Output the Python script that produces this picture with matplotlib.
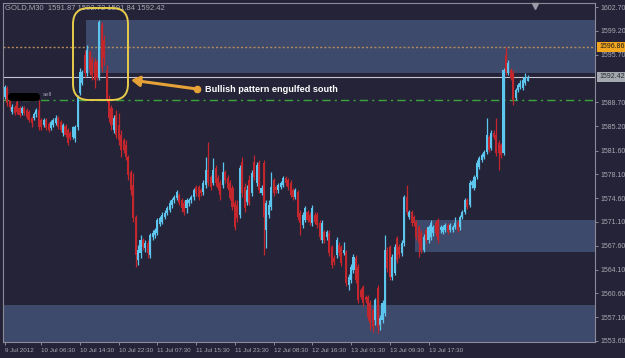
import numpy as np
import matplotlib
matplotlib.use("Agg")
import matplotlib.pyplot as plt
from matplotlib.patches import Rectangle, FancyBboxPatch

# ---------------- data (GOLD, M30) ----------------
opens = [1589.5,1590.8,1589.0,1587.3,1588.0,1588.7,1587.8,1587.1,1587.8,1587.6,
         1587.3,1586.4,1586.4,1587.0,1587.6,1586.1,1585.4,1586.1,1585.5,1584.9,
         1585.4,1585.7,1586.4,1585.8,1584.2,1585.2,1584.6,1584.2,1583.6,1583.4,
         1585.1,1590.1,1591.5,1595.6,1593.0,1596.1,1594.9,1594.6,1594.6,1592.3,
         1600.1,1597.9,1593.4,1589.0,1587.8,1584.6,1586.8,1585.4,1583.9,1583.2,
         1582.4,1580.6,1578.4,1576.5,1571.8,1565.5,1566.5,1568.5,1567.3,1568.0,
         1566.2,1568.9,1569.2,1569.5,1570.8,1571.1,1571.8,1572.4,1572.9,1573.6,
         1574.3,1574.6,1575.1,1574.3,1573.9,1573.2,1573.9,1574.3,1574.8,1576.2,
         1576.2,1575.8,1575.5,1576.5,1578.7,1577.7,1576.8,1579.0,1577.6,1576.8,
         1576.5,1578.4,1577.6,1576.8,1576.1,1573.9,1573.6,1572.1,1579.9,1576.2,
         1574.0,1577.3,1575.4,1579.9,1576.8,1579.8,1575.4,1579.8,1569.9,1572.1,
         1573.3,1577.3,1576.2,1575.8,1576.2,1576.5,1577.6,1577.3,1576.8,1575.8,
         1574.8,1575.5,1572.4,1570.7,1571.4,1572.6,1572.1,1571.0,1572.1,1572.1,
         1571.0,1568.5,1569.6,1568.9,1569.5,1567.4,1565.8,1566.2,1567.7,1567.4,
         1566.5,1566.7,1561.8,1562.6,1564.0,1565.8,1564.5,1561.1,1561.5,1560.1,
         1560.1,1559.2,1558.2,1556.7,1561.4,1555.9,1556.7,1557.7,1567.0,1567.4,
         1563.0,1563.6,1568.7,1567.4,1566.5,1568.0,1574.8,1571.8,1572.6,1571.8,
         1571.1,1570.4,1569.5,1567.0,1569.9,1568.5,1568.9,1569.5,1571.0,1571.4,
         1569.9,1569.6,1569.9,1570.7,1569.9,1569.9,1570.4,1571.0,1570.4,1571.8,
         1572.6,1574.3,1573.6,1576.5,1576.1,1577.7,1579.2,1580.2,1580.6,1581.4,
         1583.6,1582.0,1584.2,1583.9,1582.7,1582.4,1581.2,1595.6,1593.0,1593.4,
         1593.0,1589.3,1590.5,1590.9,1590.8,1591.5,1591.87]
highs = [1591.2,1591.1,1589.3,1588.4,1588.3,1589.0,1588.1,1588.1,1588.1,1587.8,
         1587.6,1586.7,1587.3,1587.8,1589.0,1586.4,1586.4,1586.4,1585.8,1586.1,
         1586.4,1586.8,1586.7,1586.1,1585.7,1585.5,1584.9,1584.5,1585.2,1585.4,
         1589.8,1593.7,1593.4,1596.4,1597.1,1596.4,1595.3,1595.2,1594.9,1600.8,
         1600.5,1598.6,1594.2,1589.8,1588.3,1586.8,1587.6,1587.1,1584.6,1583.4,
         1583.2,1580.9,1578.7,1578.3,1572.1,1567.7,1569.2,1568.7,1568.5,1568.5,
         1569.5,1569.9,1570.2,1571.7,1572.0,1572.6,1572.9,1573.4,1574.3,1574.6,
         1575.1,1575.8,1575.4,1574.6,1574.3,1574.6,1574.6,1575.1,1576.1,1576.5,
         1576.5,1576.1,1577.3,1580.6,1582.9,1578.0,1580.5,1579.5,1578.0,1577.3,
         1579.9,1578.7,1578.0,1577.3,1576.5,1574.3,1574.3,1579.5,1580.6,1576.8,
         1576.5,1578.0,1578.7,1580.9,1579.9,1580.2,1576.5,1580.2,1574.3,1574.3,
         1578.4,1577.6,1576.5,1576.8,1577.1,1577.8,1577.8,1577.6,1577.3,1576.1,
         1576.1,1575.8,1572.9,1572.6,1573.4,1572.9,1572.6,1573.6,1572.6,1572.6,
         1571.4,1571.4,1569.9,1569.9,1569.9,1567.7,1566.2,1568.9,1568.2,1567.7,
         1568.2,1567.0,1563.4,1564.9,1566.4,1566.2,1564.9,1561.4,1561.8,1560.4,
         1560.4,1559.6,1558.5,1559.9,1561.8,1557.4,1559.6,1569.2,1567.4,1567.7,
         1566.4,1567.9,1569.0,1567.9,1568.5,1575.1,1576.5,1572.9,1572.9,1572.1,
         1571.4,1570.7,1569.9,1569.3,1570.2,1570.7,1571.4,1570.7,1571.4,1571.7,
         1570.7,1570.7,1571.0,1571.0,1571.0,1570.7,1571.8,1571.4,1572.1,1572.9,
         1574.6,1574.6,1577.3,1577.3,1578.0,1580.2,1580.8,1581.2,1581.7,1586.4,
         1583.9,1584.6,1584.6,1586.4,1583.2,1582.7,1593.7,1596.86,1594.9,1593.7,
         1593.4,1590.8,1591.5,1592.0,1592.4,1593.0,1592.72]
lows = [1589.2,1588.1,1587.6,1587.0,1586.8,1587.0,1586.5,1586.8,1586.8,1586.2,
        1585.8,1585.1,1586.1,1586.5,1584.6,1584.6,1585.1,1584.6,1584.3,1584.6,
        1585.1,1585.4,1584.8,1584.3,1583.7,1583.6,1582.4,1583.2,1583.3,1582.9,
        1584.6,1589.8,1591.2,1592.4,1592.6,1592.7,1592.0,1590.8,1592.0,1592.0,
        1593.1,1594.2,1588.7,1585.8,1584.6,1584.2,1583.4,1582.4,1580.6,1581.2,
        1580.2,1577.3,1575.1,1571.1,1564.5,1564.8,1565.8,1567.0,1566.7,1565.8,
        1565.8,1568.5,1568.7,1569.2,1570.5,1570.8,1571.6,1572.1,1572.6,1573.2,
        1573.9,1574.3,1573.6,1572.6,1572.1,1572.4,1573.4,1573.9,1574.3,1574.9,
        1574.3,1574.9,1575.1,1576.1,1576.4,1575.8,1576.5,1576.4,1575.8,1574.3,
        1576.1,1576.8,1575.8,1574.3,1572.9,1569.9,1571.1,1571.7,1574.8,1572.6,
        1573.6,1573.6,1574.9,1577.3,1576.4,1575.4,1575.1,1566.2,1567.3,1571.7,
        1572.9,1574.9,1575.4,1575.4,1575.9,1576.2,1576.4,1575.8,1574.8,1574.3,
        1574.5,1571.4,1569.2,1570.2,1571.1,1571.1,1570.7,1570.5,1570.8,1570.2,
        1568.5,1568.0,1568.0,1568.5,1566.1,1564.3,1564.8,1565.8,1566.1,1564.6,
        1566.2,1561.7,1561.1,1562.1,1563.6,1562.1,1559.2,1559.8,1558.8,1559.2,
        1556.7,1555.2,1554.9,1555.9,1554.8,1555.2,1556.3,1557.3,1563.7,1562.6,
        1562.6,1563.3,1565.1,1565.8,1566.1,1567.6,1572.1,1571.6,1570.5,1570.5,
        1568.5,1566.0,1566.5,1566.7,1568.0,1568.0,1568.5,1569.0,1569.0,1568.0,
        1569.5,1569.3,1569.6,1569.3,1569.6,1569.6,1570.1,1569.6,1569.9,1571.6,
        1572.3,1573.0,1573.3,1576.1,1575.8,1577.4,1578.9,1579.9,1580.4,1581.1,
        1581.4,1581.7,1583.3,1580.8,1578.7,1580.5,1580.9,1592.7,1592.7,1592.0,
        1588.3,1589.0,1590.2,1590.6,1590.5,1591.2,1591.84]
closes = [1590.9,1588.6,1588.0,1588.0,1587.1,1587.3,1586.8,1587.8,1587.1,1586.5,
          1586.1,1585.7,1587.0,1587.6,1585.1,1585.1,1586.1,1584.9,1584.6,1585.8,
          1586.1,1586.4,1585.1,1584.6,1585.4,1583.9,1582.7,1583.4,1585.1,1585.1,
          1589.5,1593.1,1593.1,1593.0,1596.4,1593.4,1592.7,1592.0,1592.3,1600.5,
          1593.7,1595.2,1589.0,1586.4,1585.4,1586.4,1583.9,1583.2,1581.7,1581.7,
          1580.6,1578.0,1575.8,1571.7,1566.2,1567.0,1568.5,1567.4,1568.0,1566.5,
          1569.2,1569.5,1569.9,1571.4,1571.7,1572.1,1572.4,1573.2,1573.9,1574.3,
          1574.8,1575.5,1573.9,1573.2,1572.6,1574.3,1574.3,1574.8,1575.8,1575.4,
          1574.8,1575.4,1576.8,1578.7,1576.8,1576.2,1578.7,1576.8,1576.1,1575.1,
          1578.4,1577.3,1576.1,1574.6,1573.3,1570.4,1571.7,1579.0,1575.4,1573.2,
          1575.8,1573.9,1578.3,1577.7,1579.5,1575.8,1576.1,1571.8,1573.9,1573.6,
          1576.2,1575.4,1575.8,1576.5,1576.8,1577.6,1576.8,1576.2,1575.1,1574.8,
          1575.8,1571.8,1571.0,1572.1,1573.2,1571.4,1571.1,1573.2,1571.1,1570.7,
          1568.9,1571.0,1568.5,1569.6,1566.5,1564.8,1565.2,1568.5,1566.5,1565.1,
          1567.0,1562.1,1563.0,1564.5,1566.0,1562.6,1559.6,1560.1,1559.2,1559.6,
          1557.1,1556.3,1555.7,1559.6,1555.7,1557.0,1559.2,1567.0,1564.3,1563.0,
          1566.0,1567.4,1565.5,1566.2,1568.0,1574.8,1572.6,1572.6,1571.0,1571.0,
          1568.9,1568.0,1567.0,1568.9,1568.5,1570.4,1571.0,1570.4,1569.5,1568.5,
          1570.4,1570.4,1570.7,1569.6,1570.7,1570.4,1571.0,1569.9,1571.8,1572.6,
          1574.3,1573.3,1576.8,1577.0,1577.7,1579.8,1580.5,1580.9,1581.4,1583.9,
          1581.7,1584.2,1583.6,1581.2,1581.2,1580.9,1593.4,1593.1,1594.5,1592.3,
          1589.0,1590.5,1591.2,1591.5,1592.0,1592.4,1592.42]

x_tick_index = [0, 15, 31, 47, 63, 79, 95, 111, 127, 143, 159, 175]
x_tick_labels = ["9 Jul 2012", "10 Jul 06:30", "10 Jul 14:30", "10 Jul 22:30",
                 "11 Jul 07:30", "11 Jul 15:30", "11 Jul 23:30", "12 Jul 08:30",
                 "12 Jul 16:30", "13 Jul 01:30", "13 Jul 09:30", "13 Jul 17:30"]
y_tick_values = [1602.70, 1599.20, 1595.70, 1588.70, 1585.20, 1581.60, 1578.10,
                 1574.60, 1571.10, 1567.60, 1564.10, 1560.60, 1557.10, 1553.60]

# zones (price bands) and levels
top_zone = (1593.0, 1600.8, 34)        # low, high, starting bar
mid_zone = (1566.7, 1571.4, 170)
bot_zone = (1553.0, 1558.9, 0)
level_orange = 1596.86
level_current = 1592.42
level_green = 1589.1

header = "GOLD,M30  1591.87 1592.72 1591.84 1592.42"
note = "Bullish pattern engulfed south"

# ---------------- styling ----------------
BG = '#242337'
ZONE = '#3e4a6b'
UP = '#5cc6ee'
DN = '#c4262d'
TXT = '#a9a9b4'
FONT = 'Liberation Sans'

W, H = 625, 358
fig = plt.figure(figsize=(W / 100, H / 100), dpi=100, facecolor=BG)
ax = fig.add_axes([3 / W, 16 / H, 592 / W, 339 / H], facecolor=BG)

n = len(closes)
idx = np.arange(n)
o = np.array(opens); c = np.array(closes)
hi = np.array(highs); lo = np.array(lows)
up = c >= o

xmax = 243.8
ax.set_xlim(-0.83, xmax)
ax.set_ylim(1553.45, 1603.3)

for lo_, hi_, start in (top_zone, mid_zone, bot_zone):
    ax.add_patch(Rectangle((start - 0.5 if start else -1, lo_), xmax + 2 - start, hi_ - lo_,
                           facecolor=ZONE, edgecolor='none', zorder=1))

ax.axhline(level_orange, color='#b48a5c', lw=1.0, ls=(0, (1.5, 1.5)), zorder=2)
ax.axhline(level_current, color='#c6c6d0', lw=0.8, zorder=2)
ax.axhline(level_green, color='#3da33d', lw=1.0, ls=(0, (6, 3, 1.5, 3)), zorder=2)

cols = np.where(up, UP, DN)
ax.vlines(idx, lo, hi, colors=cols, lw=0.9, zorder=3)
body_lo = np.minimum(o, c)
body_h = np.maximum(np.abs(c - o), 0.12)
ax.bar(idx, body_h, bottom=body_lo, width=0.85, color=cols, edgecolor='none', zorder=4)

# axes styling
for s in ax.spines.values():
    s.set_color('#8a8a98'); s.set_linewidth(0.8)
ax.yaxis.tick_right()
ax.set_yticks(y_tick_values)
ax.set_yticklabels([f"{v:.2f}" for v in y_tick_values])
ax.set_xticks(x_tick_index)
ax.set_xticklabels(x_tick_labels)
ax.tick_params(axis='both', colors='#8a8a98', length=2.5, width=0.7,
               labelcolor=TXT, labelsize=5)
ax.tick_params(axis='x', pad=1.5, labelsize=4.5)
ax.tick_params(axis='y', pad=1.5)
for t in ax.get_xticklabels():
    t.set_ha('left'); t.set_family(FONT)
for t in ax.get_yticklabels():
    t.set_family(FONT)

# price boxes on right axis
ax.annotate(f"{level_orange:.2f}", xy=(1.0, level_orange), xycoords=('axes fraction', 'data'),
            xytext=(3, 0), textcoords='offset points', va='center', ha='left',
            fontsize=5, family=FONT, color='#1a1a1a',
            bbox=dict(boxstyle='square,pad=0.25', fc='#f2a51e', ec='none'))
ax.annotate(f"{level_current:.2f}", xy=(1.0, level_current), xycoords=('axes fraction', 'data'),
            xytext=(3, 0), textcoords='offset points', va='center', ha='left',
            fontsize=5, family=FONT, color='#2a2a2a',
            bbox=dict(boxstyle='square,pad=0.25', fc='#a4a8b0', ec='none'))

# header text
fig.text(5 / W, 1 - 8 / H, header, fontsize=5.5, family=FONT, color=TXT, va='center', ha='left')

# shift marker at top
ax.plot([0.899], [0.992], marker='v', color='#9a9aa8', ms=4, transform=ax.transAxes,
        clip_on=False, zorder=6)

# yellow rounded rectangle around the pattern
pix = fig.dpi_scale_trans
fig.patches.append(FancyBboxPatch((73 / 100, (H - 100) / 100), 55 / 100, 92 / 100,
                                  boxstyle='round,pad=0,rounding_size=0.16',
                                  transform=pix, fill=False, ec='#e8cc4c', lw=1.4, zorder=7))

# arrow + label
ax.annotate('', xy=(131, H - 80), xytext=(197, H - 89), xycoords='figure pixels',
            textcoords='figure pixels',
            arrowprops=dict(arrowstyle='-|>,head_length=0.5,head_width=0.3',
                            color='#e6a236', lw=2.2, shrinkA=0, shrinkB=0), zorder=8)
ax.plot([197], [H - 89], 'o', ms=4.5, color='#e6a236', transform=None, zorder=8)
fig.text(205 / W, 1 - 89 / H, note, fontsize=6.6, family=FONT, weight='bold',
         color='white', va='center', ha='left')

# redacted blob + "sell"
fig.patches.append(FancyBboxPatch((8 / 100, (H - 101) / 100), 32 / 100, 8 / 100,
                                  boxstyle='round,pad=0,rounding_size=0.04',
                                  transform=pix, fc='black', ec='none', zorder=7))
fig.text(43 / W, 1 - 95 / H, "sell", fontsize=4.5, family=FONT, color='#9a9aa8',
         va='center', ha='left')

fig.savefig('out.png', dpi=100, facecolor=BG)
